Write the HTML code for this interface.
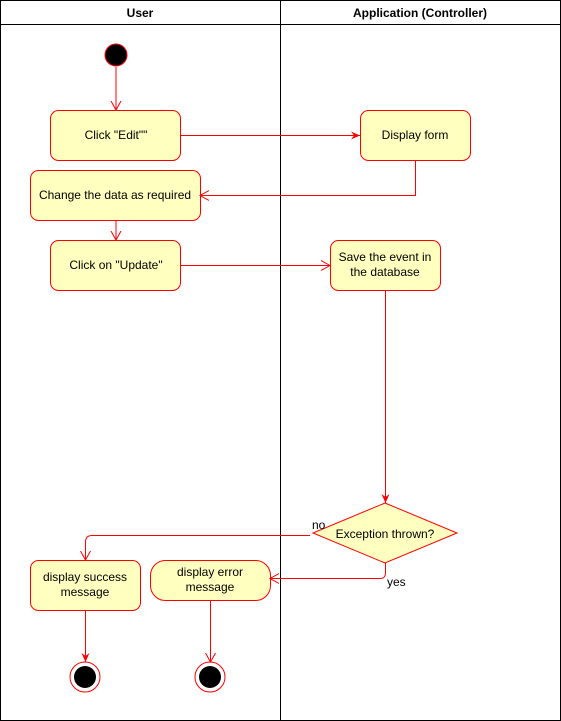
<!DOCTYPE html>
<html><head><style>body{margin:0;background:#fff}svg{display:block}text{font-family:"Liberation Sans",Arial,sans-serif;font-size:12px;fill:#000}</style></head>
<body>
<svg width="561" height="721" viewBox="0 0 561 721" xmlns="http://www.w3.org/2000/svg">
<defs>
<marker id="f" markerWidth="10" markerHeight="10" refX="9" refY="5" orient="auto" markerUnits="userSpaceOnUse"><path d="M0,1 L9,5 L0,9 L3,5 Z" fill="#f00"/></marker>
<marker id="o" markerWidth="10" markerHeight="12" refX="9" refY="6" orient="auto" markerUnits="userSpaceOnUse"><path d="M0,1 L9,6 L0,11" fill="none" stroke="#f00"/></marker>
</defs>
<rect x="0.5" y="0.5" width="560" height="720" fill="#fff" stroke="#000"/>
<line x1="0" y1="24.5" x2="561" y2="24.5" stroke="#000"/>
<line x1="280.5" y1="0" x2="280.5" y2="721" stroke="#000"/>
<text x="140" y="17" text-anchor="middle" font-weight="bold">User</text>
<text x="420" y="17" text-anchor="middle" font-weight="bold">Application (Controller)</text>
<g fill="#ffffc0" stroke="#f00" stroke-width="1">
<rect x="50.5" y="110.5" width="130" height="50" rx="8"/>
<rect x="360.5" y="110.5" width="110" height="50" rx="8"/>
<rect x="30.5" y="170.5" width="170" height="50" rx="8"/>
<rect x="50.5" y="240.5" width="130" height="50" rx="8"/>
<rect x="330.5" y="240.5" width="110" height="50" rx="8"/>
<path d="M385,503 L457,533 L385,563 L313,533 Z"/>
<rect x="30.5" y="560.5" width="110" height="50" rx="8"/>
<rect x="150.5" y="560.5" width="120" height="40" rx="15"/>
</g>
<circle cx="116" cy="55" r="11" fill="#000" stroke="#f00"/>
<circle cx="85" cy="677" r="15" fill="#fff" stroke="#f00"/>
<circle cx="85" cy="677" r="11" fill="#000"/>
<circle cx="210" cy="677" r="15" fill="#fff" stroke="#f00"/>
<circle cx="210" cy="677" r="11" fill="#000"/>
<g fill="none" stroke="#f00">
<path d="M116,67 V110" marker-end="url(#o)"/>
<path d="M180,135.5 H360" marker-end="url(#f)"/>
<path d="M415.5,160 V195.5 H200" marker-end="url(#o)"/>
<path d="M116,220 V240" marker-end="url(#o)"/>
<path d="M180,265.5 H330" marker-end="url(#o)"/>
<path d="M385.5,290 V503" marker-end="url(#f)"/>
<path d="M310,535.5 H92 Q85.5,535.5 85.5,542 V560" marker-end="url(#o)"/>
<path d="M385.5,563 V573 Q385.5,578.5 380,578.5 H270" marker-end="url(#o)"/>
<path d="M85.5,610 V662" marker-end="url(#f)"/>
<path d="M210.5,600 V662" marker-end="url(#o)"/>
</g>
<text x="116" y="139" text-anchor="middle">Click "Edit""</text>
<text x="415" y="139" text-anchor="middle">Display form</text>
<text x="115" y="199" text-anchor="middle">Change the data as required</text>
<text x="116" y="269" text-anchor="middle">Click on "Update"</text>
<text x="385" y="261" text-anchor="middle">Save the event in</text>
<text x="385" y="276" text-anchor="middle">the database</text>
<text x="385" y="538" text-anchor="middle">Exception thrown?</text>
<text x="85" y="581" text-anchor="middle">display success</text>
<text x="85" y="596" text-anchor="middle">message</text>
<text x="210" y="576" text-anchor="middle">display error</text>
<text x="210" y="591" text-anchor="middle">message</text>
<text x="312" y="529" font-size="11">no</text>
<text x="387" y="586" font-size="11">yes</text>
</svg>
</body></html>
